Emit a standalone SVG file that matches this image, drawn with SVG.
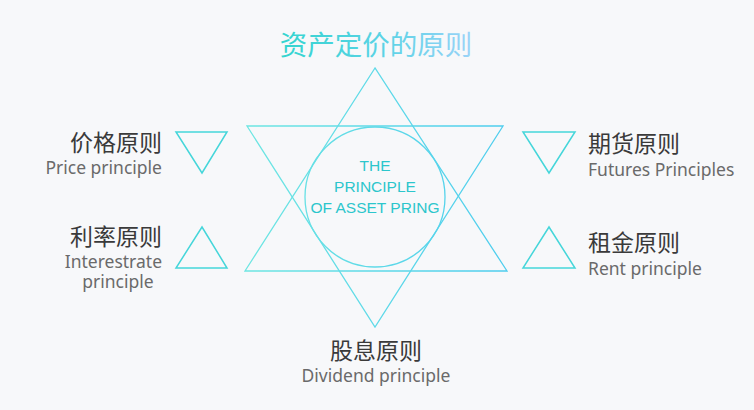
<svg xmlns="http://www.w3.org/2000/svg" width="754" height="410" viewBox="0 0 754 410">
<defs>
<linearGradient id="tg" x1="280" y1="0" x2="472" y2="0" gradientUnits="userSpaceOnUse">
<stop offset="0" stop-color="#33d4cf"/><stop offset="0.55" stop-color="#5cd3e6"/><stop offset="1" stop-color="#9bd3f8"/>
</linearGradient>
<linearGradient id="sg" x1="245" y1="0" x2="507" y2="0" gradientUnits="userSpaceOnUse">
<stop offset="0" stop-color="#6ee6e2"/><stop offset="1" stop-color="#4ecdee"/>
</linearGradient>
<style>
.zh{font-family:"Noto Sans CJK SC",sans-serif;font-size:23px;fill:#3a3a3a}
.en{font-family:"Noto Sans","Liberation Sans",sans-serif;font-size:17.5px;fill:#6a6a6a}
.tri{fill:none;stroke:#45d6da;stroke-width:1.5}
.star{fill:none;stroke:url(#sg);stroke-width:1.3}
.ct{font-family:"Liberation Sans",Arial,sans-serif;font-size:15.5px;fill:#2cc6cc;text-anchor:middle}
</style>
</defs>
<rect width="754" height="410" fill="#f7f8fa"/>
<text id="title" x="376" y="55" text-anchor="middle" font-family="Noto Sans CJK SC,sans-serif" font-size="27.5" fill="url(#tg)">资产定价的原则</text>
<g id="star">
<polygon class="star" points="375,68 245,271 507,271"/>
<polygon class="star" points="247,126 503,126 375,327"/>
<circle class="star" cx="375" cy="197" r="70"/>
</g>
<g id="center">
<text class="ct" x="375" y="171">THE</text>
<text class="ct" x="375" y="192">PRINCIPLE</text>
<text class="ct" x="375" y="213">OF ASSET PRING</text>
</g>
<g id="price">
<polygon class="tri" points="176,132 227,132 202,173"/>
<text class="zh" x="162" y="151" text-anchor="end">价格原则</text>
<text class="en" x="162" y="174" text-anchor="end">Price principle</text>
</g>
<g id="interest">
<polygon class="tri" points="202,227 227,268 176,268"/>
<text class="zh" x="162" y="245" text-anchor="end">利率原则</text>
<text class="en" x="162" y="268" text-anchor="end" font-size="17px">Interestrate</text>
<text class="en" x="118" y="288" text-anchor="middle" font-size="17px">principle</text>
</g>
<g id="futures">
<polygon class="tri" points="523,132 575,132 549,173"/>
<text class="zh" x="588" y="152">期货原则</text>
<text class="en" x="588" y="176">Futures Principles</text>
</g>
<g id="rent">
<polygon class="tri" points="549,227 575,268 523,268"/>
<text class="zh" x="588" y="251">租金原则</text>
<text class="en" x="588" y="275">Rent principle</text>
</g>
<g id="dividend">
<text class="zh" x="376" y="359" text-anchor="middle">股息原则</text>
<text class="en" x="376" y="382" text-anchor="middle">Dividend principle</text>
</g>
</svg>
